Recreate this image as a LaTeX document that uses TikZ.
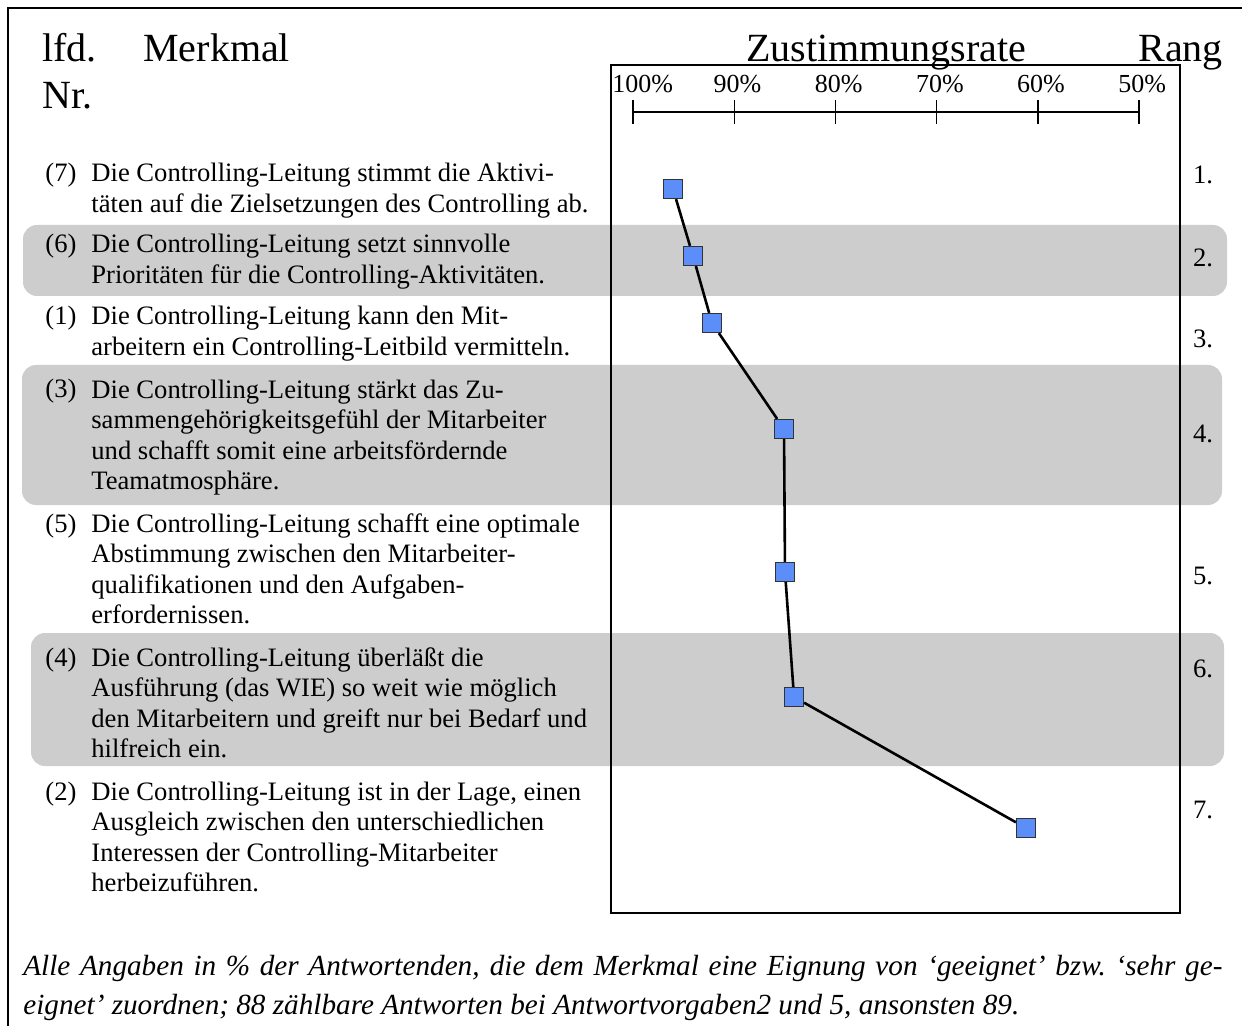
\documentclass[tikz,border=0pt]{standalone}
\usepackage{fontspec}
\setmainfont{Liberation Serif}
\definecolor{bandgray}{RGB}{205,205,205}
\definecolor{markblue}{RGB}{92,142,250}
\tikzset{
  head/.style={anchor=base west, inner sep=0pt, align=left, font=\fontsize{20}{23.5}\selectfont},
  itemnr/.style={anchor=base west, inner sep=0pt, font=\fontsize{13.3}{15.25}\selectfont},
  itemtext/.style={anchor=base west, inner sep=0pt, align=left, font=\fontsize{13.3}{15.25}\selectfont},
  rank/.style={anchor=base, inner sep=0pt, font=\fontsize{13.3}{15.25}\selectfont},
  scalelbl/.style={anchor=base west, inner sep=0pt, font=\fontsize{13}{15}\selectfont},
  band/.style={fill=bandgray, rounded corners=7pt},
  datapt/.style={draw=black!80, fill=markblue, line width=0.6pt, minimum size=9.5pt, inner sep=0pt},
}
\begin{document}
\begin{tikzpicture}[x=0.5pt, y=-0.5pt]
\useasboundingbox (0,0) rectangle (1242,1026);
\fill[white] (0,0) rectangle (1242,1026);

\fill[band] (23,225) rectangle (1227,296);
\fill[band] (22,365) rectangle (1222,505);
\fill[band] (31,633) rectangle (1224,766);

\draw[line width=1pt] (1242,8) -- (8,8) -- (8,1026);
\draw[line width=0.7pt] (611,65) rectangle (1180,913);

% multi-line nodes sit on the baseline of their last line
\node[head] (nr) at (42,109) {lfd.\\Nr.};
\node[head] (merkmal) at (143,62) {Merkmal};
\node[head] (rate) at (746,62) {Zustimmungsrate};
\node[head] (rang) at (1138,62) {Rang};

\draw[line width=0.7pt] (633,112) -- (1139,112);
\foreach \v [count=\i from 0] in {100,90,80,70,60,50} {
  \draw[line width=0.7pt] (633+\i*101.2,100) -- (633+\i*101.2,124);
  \node[scalelbl] (s\v) at (612+\i*101.2,93) {\v\%};
}

\node[itemnr] (n7) at (45,182) {(7)};
\node[itemtext] (t7) at (91,212.5) {Die Controlling-Leitung stimmt die Aktivi-\\t\"aten auf die Zielsetzungen des Controlling ab.};
\node[itemnr] (n6) at (45,253) {(6)};
\node[itemtext] (t6) at (91,283.5) {Die Controlling-Leitung setzt sinnvolle\\Priorit\"aten f\"ur die Controlling-Aktivit\"aten.};
\node[itemnr] (n1) at (45,325) {(1)};
\node[itemtext] (t1) at (91,355.5) {Die Controlling-Leitung kann den Mit-\\arbeitern ein Controlling-Leitbild vermitteln.};
\node[itemnr] (n3) at (45,398) {(3)};
\node[itemtext] (t3) at (91,489.5) {Die Controlling-Leitung st\"arkt das Zu-\\sammengeh\"origkeitsgef\"uhl der Mitarbeiter\\und schafft somit eine arbeitsf\"ordernde\\Teamatmosph\"are.};
\node[itemnr] (n5) at (45,532) {(5)};
\node[itemtext] (t5) at (91,623.5) {Die Controlling-Leitung schafft eine optimale\\Abstimmung zwischen den Mitarbeiter-\\qualifikationen und den Aufgaben-\\erfordernissen.};
\node[itemnr] (n4) at (45,666) {(4)};
\node[itemtext] (t4) at (91,757.5) {Die Controlling-Leitung \"uberl\"a\ss t die\\Ausf\"uhrung (das WIE) so weit wie m\"oglich\\den Mitarbeitern und greift nur bei Bedarf und\\hilfreich ein.};
\node[itemnr] (n2) at (45,800) {(2)};
\node[itemtext] (t2) at (91,891.5) {Die Controlling-Leitung ist in der Lage, einen\\Ausgleich zwischen den unterschiedlichen\\Interessen der Controlling-Mitarbeiter\\herbeizuf\"uhren.};

\node[rank] (r1) at (1203,184) {1.};
\node[rank] (r2) at (1203,267) {2.};
\node[rank] (r3) at (1203,348) {3.};
\node[rank] (r4) at (1203,443) {4.};
\node[rank] (r5) at (1203,584) {5.};
\node[rank] (r6) at (1203,677) {6.};
\node[rank] (r7) at (1203,818) {7.};

\node[datapt] (p1) at (673,189) {};
\node[datapt] (p2) at (693,256) {};
\node[datapt] (p3) at (712,323) {};
\node[datapt] (p4) at (784,429) {};
\node[datapt] (p5) at (785,572) {};
\node[datapt] (p6) at (794,697) {};
\node[datapt] (p7) at (1026,828) {};
\draw[line width=1.3pt] (p1) -- (p2) -- (p3) -- (p4) -- (p5) -- (p6) -- (p7);

\node[anchor=base west, inner sep=0pt, align=left, font=\fontsize{14.6}{19.5}\selectfont\itshape] (note) at (23,1014)
  {\makebox[599.5pt][s]{Alle Angaben in \% der Antwortenden, die dem Merkmal eine Eignung von ‘geeignet’ bzw.\ ‘sehr ge-}\\eignet’ zuordnen; 88 zählbare Antworten bei Antwortvorgaben2 und 5, ansonsten 89.};
\end{tikzpicture}
\end{document}
